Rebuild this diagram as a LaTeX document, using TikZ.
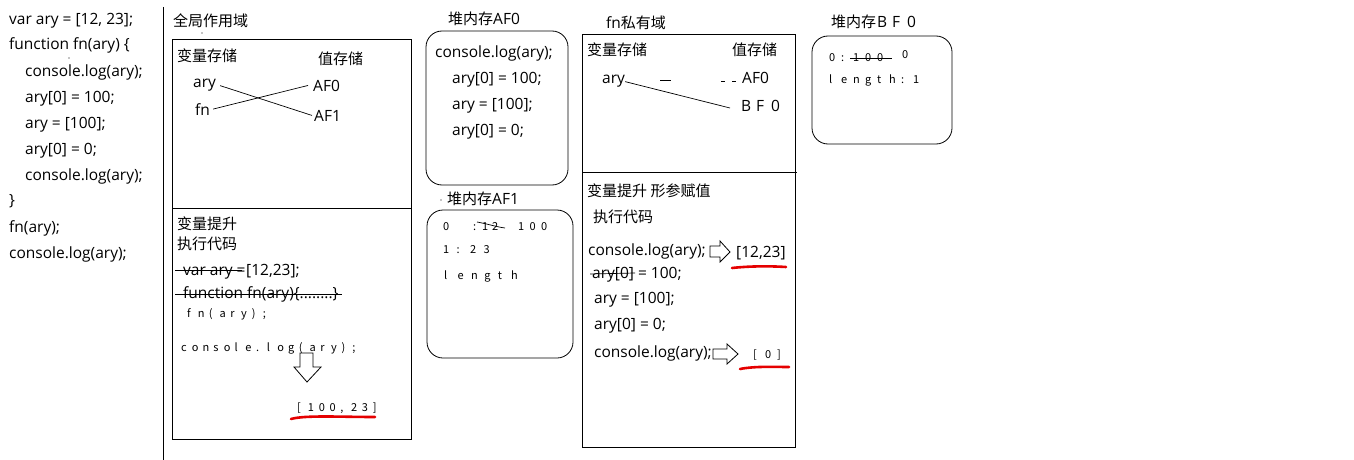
\documentclass[tikz,border=0pt]{standalone}
\usepackage{fontspec}
\setmainfont{Open Sans}
\newfontfamily\cjk{Noto Sans CJK SC}
\newlength\spw
\newcommand\spaced[2]{\setlength\spw{#1}\spcx#2\relax}
\def\spcx#1{\ifx#1\relax\else\makebox[\spw][l]{#1}\expandafter\spcx\fi}
\newcommand\zh[1]{{\cjk\fontsize{15}{17}\selectfont #1}}
\tikzset{
  txt/.style={anchor=base west, inner sep=0pt, font=\fontsize{15.5}{17}\selectfont},
  stxt/.style={anchor=base west, inner sep=0pt, font=\cjk\fontsize{11}{12}\selectfont},
  sqbox/.style={draw, line width=0.8pt},
  rbox/.style={draw, line width=0.8pt, rounded corners=16pt},
  ln/.style={line width=0.7pt},
  redline/.style={draw=red!90!black, line width=2.6pt, line cap=round},
  harrow/.style={draw, line width=0.8pt, fill=white, line join=miter},
  dot/.style={fill, circle, inner sep=0pt, minimum size=1.4pt}
}
\begin{document}
\begin{tikzpicture}[x=1pt,y=-1pt]
\useasboundingbox (0,0) rectangle (1354,460);
% ---------- left code ----------
\node[txt] (c1) at (9,25) {var ary = [12, 23];};
\node[txt] (c2) at (9,50) {function fn(ary) \{};
\node[txt] (c3) at (25,77) {console.log(ary);};
\node[txt] (c4) at (25,102) {ary[0] = 100;};
\node[txt] (c5) at (25,128) {ary = [100];};
\node[txt] (c6) at (25,154) {ary[0] = 0;};
\node[txt] (c7) at (25,180) {console.log(ary);};
\node[txt] (c8) at (9,205) {\}};
\node[txt] (c9) at (9,232) {fn(ary);};
\node[txt] (c10) at (9,258) {console.log(ary);};
\node[dot] (d1) at (69,58) {};
\draw[ln] (163,7) -- (163,460);
% ---------- global scope ----------
\node[txt] (gtitle) at (173,27) {\zh{全局作用域}};
\node[dot] (d2) at (202,33) {};
\draw[sqbox] (172,39) rectangle (411,439);
\draw[ln] (172,208) -- (411,208);
\node[txt] (gvar) at (177,62) {\zh{变量存储}};
\node[txt] (gval) at (318,64) {\zh{值存储}};
\node[txt] (gary) at (193,88) {ary};
\node[txt] (gfn) at (195,115) {fn};
\node[txt] (gaf0) at (313,91) {AF0};
\node[txt] (gaf1) at (314,121) {AF1};
\draw[ln] ([xshift=4pt]gary.east) -- ([xshift=-2pt]gaf1.west);
\draw[ln] ([xshift=3pt]gfn.east) -- ([xshift=-5pt]gaf0.west);
\node[txt] (gh1) at (177,229) {\zh{变量提升}};
\node[txt] (gh2) at (177,249) {\zh{执行代码}};
\node[txt] (gl1) at (183,275) {var ary =};
\node[txt] (gl1b) at (246,275) {[12,23];};
\draw[ln] (175,270) -- (242,270);
\node[txt] (gl2) at (183,298) {function fn(ary)\{........\}};
\draw[ln] (175,294) -- (342,294);
\node[stxt] (gl3) at (187,317) {\spaced{10.8pt}{fn(ary);}};
\node[stxt] (gl4) at (181,351) {\spaced{10.7pt}{console.log(ary);}};
\draw[harrow] (300,353) -- (313,353) -- (313,367) -- (321,367) -- (307,382) -- (294,367) -- (300,367) -- cycle;
\node[stxt] (gres) at (297,411) {\spaced{10.8pt}{[100,23]}};
\draw[redline] (291,419) .. controls (305,415) and (340,417) .. (375,417);
% ---------- heap AF0 ----------
\node[txt] (atitle) at (448,25) {\zh{堆内存}AF0};
\draw[rbox] (426,31) rectangle (568,185);
\node[txt] (a1) at (435,58) {console.log(ary);};
\node[txt] (a2) at (452,83) {ary[0] = 100;};
\node[txt] (a3) at (452,109) {ary = [100];};
\node[txt] (a4) at (452,135) {ary[0] = 0;};
% ---------- heap AF1 ----------
\node[dot] (d3) at (441,200) {};
\node[txt] (btitle) at (447,204) {\zh{堆内存}AF1};
\draw[rbox] (427,210) rectangle (573,358);
\node[stxt] (b0) at (443,230) {0};
\node[stxt] (bc) at (473,230) {:};
\node[stxt] (b12) at (482,230) {\spaced{10pt}{12}};
\draw[ln] (477,222) .. controls (488,224) and (497,227) .. (505,228);
\node[stxt] (b100) at (518,230) {\spaced{11.5pt}{100}};
\node[stxt] (b2) at (443,253) {\spaced{13.5pt}{1:23}};
\node[stxt] (b3) at (444,279) {\spaced{13.4pt}{length}};
% ---------- fn private scope ----------
\node[txt] (ftitle) at (606,29) {fn\zh{私有域}};
\draw[sqbox] (582,34) rectangle (795,447);
\draw[ln] (582,172) -- (797,172);
\node[txt] (fvar) at (587,56) {\zh{变量存储}};
\node[txt] (fval) at (732,56) {\zh{值存储}};
\node[txt] (fary) at (602,84) {ary};
\node[txt] (faf0) at (742,84) {AF0};
\node[txt] (fbf0) at (741,111) {\spaced{15pt}{BF0}};
\coordinate (fend) at (730,108);
\draw[ln] (fary.east) -- (fend);
\draw[ln] (660,80) -- (671,80);
\draw[ln] (721,81) -- (725,81);
\draw[ln] (732,81) -- (736,81);
\node[txt] (fh1) at (587,196) {\zh{变量提升 形参赋值}};
\node[txt] (fh2) at (593,222) {\zh{执行代码}};
\node[txt] (f1) at (588,255) {console.log(ary);};
\draw[harrow] (710,246) -- (720,246) -- (720,241) -- (730,252) -- (720,262) -- (720,257) -- (710,257) -- cycle;
\node[txt] (fr1) at (736,257) {[12,23]};
\draw[redline] (732,268) .. controls (750,266) and (770,266) .. (786,267);
\node[txt] (f2) at (592,278) {ary[0] = 100;};
\draw[ln] (590,274) -- (635,273);
\node[txt] (f3) at (594,303) {ary = [100];};
\node[txt] (f4) at (594,329) {ary[0] = 0;};
\node[txt] (f5) at (594,357) {console.log(ary);};
\draw[harrow] (713,349) -- (727,349) -- (727,344) -- (738,354) -- (727,364) -- (727,359) -- (713,359) -- cycle;
\node[stxt] (fr2) at (753,358) {\spaced{12pt}{[0]}};
\draw[redline] (740,369) .. controls (755,366) and (775,367) .. (789,367);
% ---------- heap BF0 ----------
\node[txt] (ctitle) at (831,28) {\zh{堆内存}\hspace{1pt}\spaced{15pt}{BF0}};
\draw[rbox] (812,36) rectangle (952,144);
\node[stxt] (cl1) at (829,62) {\spaced{12pt}{0:100}};
\draw[ln] (850,58) -- (892,58);
\node[stxt] (cl1b) at (902,59) {0};
\node[stxt] (cl2) at (829,84) {\spaced{12pt}{length:1}};
\end{tikzpicture}
\end{document}
